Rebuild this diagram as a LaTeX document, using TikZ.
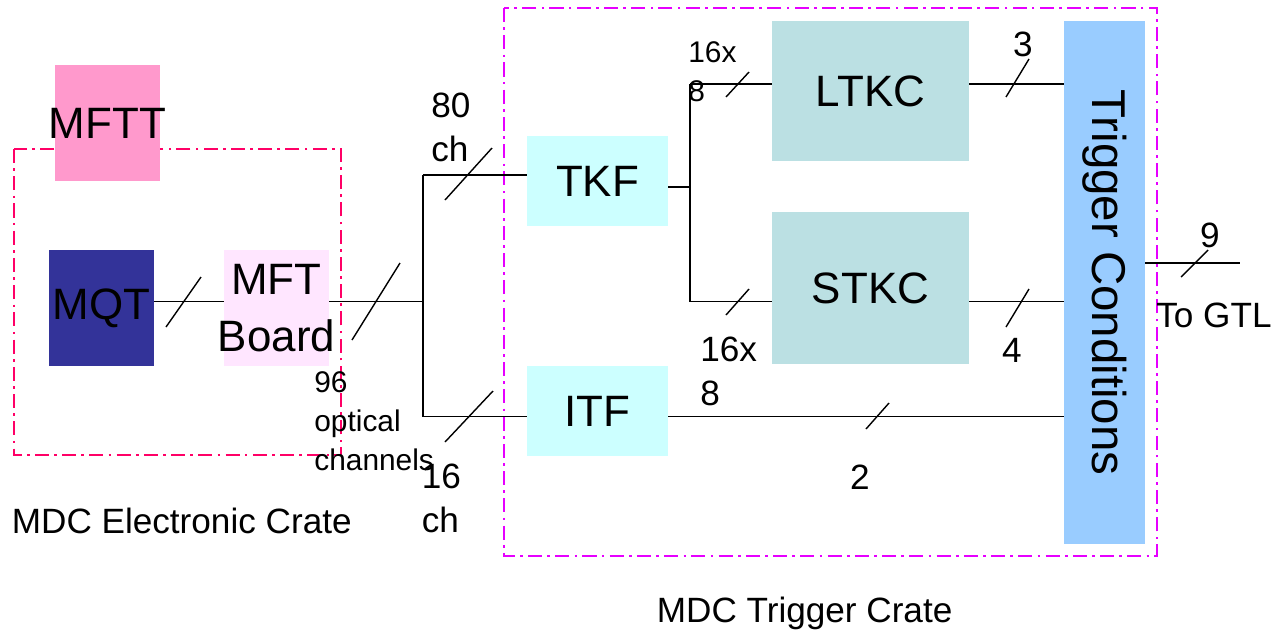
\documentclass[tikz,border=0pt]{standalone}
\usepackage{fontspec}
\setmainfont{Liberation Sans}
\usepackage{xcolor}
\usepackage{tikz}
\usetikzlibrary{positioning, calc}

\definecolor{mfttpink}{HTML}{FF99CC}
\definecolor{mqtblue}{HTML}{333399}
\definecolor{boardpink}{HTML}{FFE6FF}
\definecolor{filtcyan}{HTML}{CCFFFF}
\definecolor{trackteal}{HTML}{BBE0E3}
\definecolor{trigblue}{HTML}{99CCFF}
\definecolor{elecred}{HTML}{FF0066}
\definecolor{trigviolet}{HTML}{E600FF}

\begin{document}
\begin{tikzpicture}[
    box/.style={rectangle, inner ysep=0pt, inner xsep=-0.25cm, align=center, font=\fontsize{25}{32}\selectfont},
    lbl/.style={inner sep=0pt, align=left, font=\fontsize{20}{25}\selectfont},
    smalllbl/.style={inner sep=0pt, align=left, font=\fontsize{17}{22}\selectfont},
    bus/.style={line width=1.1pt},
    slash/.style={line width=0.8pt},
    crate/.style={line width=1pt, dash pattern=on 8pt off 3pt on 1.5pt off 3pt}
  ]
      \useasboundingbox (0,0) rectangle (25.52,-12.72);

      % Crates
      \draw[crate, elecred] (0.28,-2.98) rectangle (6.82,-9.10);
      \draw[crate, trigviolet] (10.08,-0.16) rectangle (23.14,-11.12);

      % Electronic crate boards
      \node[box, fill=mfttpink, minimum width=2.1cm, minimum height=2.32cm] (mftt) at (2.15,-2.46) {MFTT};
      \node[box, fill=mqtblue, minimum width=2.1cm, minimum height=2.32cm] (mqt) at (2.03,-6.16) {MQT};
      \node[box, fill=boardpink, minimum width=2.1cm, minimum height=2.32cm] (mft) at (5.53,-6.16) {MFT\\Board};

      % Trigger crate boards
      \node[box, fill=filtcyan, minimum width=2.82cm, minimum height=1.8cm] (tkf) at (11.95,-3.62) {TKF};
      \node[box, fill=filtcyan, minimum width=2.82cm, minimum height=1.8cm] (itf) at (11.95,-8.22) {ITF};
      \node[box, fill=trackteal, minimum width=3.94cm, minimum height=2.8cm] (ltkc) at (17.41,-1.82) {LTKC};
      \node[box, fill=trackteal, minimum width=3.94cm, minimum height=3.04cm] (stkc) at (17.41,-5.76) {STKC};
      \node[box, fill=trigblue, minimum width=1.62cm, minimum height=10.46cm] (trig) at (22.09,-5.65) {};
      \node[box, rotate=-90, font=\fontsize{27}{32}\selectfont] (trigtext) at (trig.center) {Trigger Conditions};

      % Junctions
      \coordinate (bus) at (8.46,-6.03);
      \coordinate (bustop) at (8.46,-3.5);
      \coordinate (busbot) at (8.46,-8.33);
      \coordinate (fork) at (13.8,-3.74);
      \coordinate (forktop) at (13.8,-1.68);
      \coordinate (forkbot) at (13.8,-6.03);
      \coordinate (gtl) at (24.8,-5.26);

      % Links
      \draw[bus] (mqt.east |- bus) -- (mft.west |- bus);
      \draw[bus] (mft.east |- bus) -- (bus);
      \draw[bus] (bustop) -- (busbot);
      \draw[bus] (bustop) -- (tkf.west |- bustop);
      \draw[bus] (busbot) -- (itf.west |- busbot);
      \draw[bus] (tkf.east |- fork) -- (fork);
      \draw[bus] (forktop) -- (forkbot);
      \draw[bus] (forktop) -- (ltkc.west |- forktop);
      \draw[bus] (forkbot) -- (stkc.west |- forkbot);
      \draw[bus] (ltkc.east |- forktop) -- (trig.west |- forktop);
      \draw[bus] (stkc.east |- forkbot) -- (trig.west |- forkbot);
      \draw[bus] (itf.east |- busbot) -- (trig.west |- busbot);
      \draw[bus] (trig.east |- gtl) -- (gtl);

      % Width marks
      \foreach \xa/\ya/\xb/\yb in {3.32/-6.54/4.02/-5.54, 7.04/-6.8/8.0/-5.26,
          8.9/-4.0/9.84/-2.96, 8.9/-8.84/9.86/-7.82,
          14.52/-1.94/14.98/-1.44, 14.52/-6.3/14.98/-5.78,
          20.12/-1.94/20.58/-1.18, 20.12/-6.54/20.58/-5.78,
          17.32/-8.58/17.78/-8.06, 23.62/-5.54/24.16/-5.0}
        \draw[slash] (\xa,\ya) -- (\xb,\yb);

      % Channel counts
      \node[lbl, anchor=north west] (ch80) at (8.62,-1.86) {80\\ch};
      \node[lbl, anchor=north west] (ch16) at (8.43,-9.27) {16\\ch};
      \node[smalllbl, anchor=north west] (optical) at (6.28,-7.43) {96\\optical\\channels};
      \node[smalllbl, anchor=north west] (ltkcin) at (13.76,-0.83) {16x\\8};
      \node[lbl, anchor=north west] (stkcin) at (14.0,-6.74) {16x\\8};
      \node[lbl] (ltkcout) at (20.46,-0.88) {3};
      \node[lbl] (stkcout) at (20.24,-7.0) {4};
      \node[lbl] (itfout) at (17.2,-9.54) {2};
      \node[lbl] (gtlcount) at (24.2,-4.7) {9};
      \node[lbl, anchor=north west] (togtl) at (23.12,-6.06) {To GTL};

      % Crate names
      \node[lbl, anchor=north west] (elecname) at (0.23,-10.16) {MDC Electronic Crate};
      \node[lbl, anchor=north west] (trigname) at (13.13,-11.93) {MDC Trigger Crate};
\end{tikzpicture}
\end{document}
